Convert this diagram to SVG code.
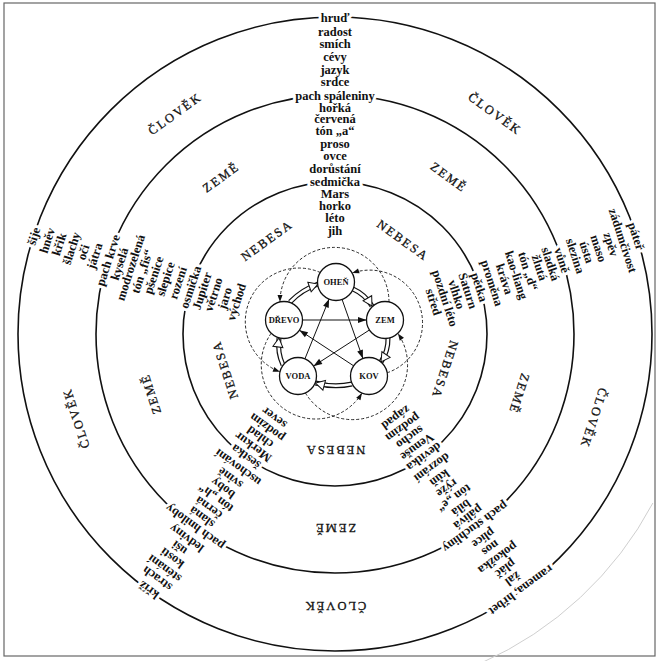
<svg xmlns="http://www.w3.org/2000/svg" width="660" height="661" viewBox="0 0 660 661">
<defs>
<style>
.t{font-family:"Liberation Serif","Times New Roman",serif;font-size:12.5px;font-weight:bold;text-anchor:middle;fill:#111}
.h{stroke:#fff;stroke-width:6;stroke-linejoin:round;paint-order:stroke}
.ring{font-size:12.5px;font-weight:normal;letter-spacing:2px;stroke:#111;stroke-width:0.3}
.circ{fill:none;stroke:#111;stroke-width:1.6}
.dash{fill:none;stroke:#111;stroke-width:0.9;stroke-dasharray:3 2;marker-end:url(#ad)}
.ctl{fill:none;stroke:#111;stroke-width:1;marker-end:url(#af)}
.genb{fill:none;stroke:#111;stroke-width:5}
.genw{fill:none;stroke:#fff;stroke-width:2.6;marker-end:url(#ah)}
.node circle{fill:#fff;stroke:#111;stroke-width:1.3}
.node text{font-family:"Liberation Serif","Times New Roman",serif;font-size:8.5px;font-weight:bold;text-anchor:middle;fill:#111}
</style>
<marker id="af" markerUnits="userSpaceOnUse" markerWidth="9" markerHeight="7" refX="8.5" refY="3" orient="auto" overflow="visible"><path d="M0,0 L8.5,3 L0,6 Z" fill="#111"/></marker>
<marker id="ad" markerUnits="userSpaceOnUse" markerWidth="8" markerHeight="6" refX="7" refY="2.5" orient="auto" overflow="visible"><path d="M0,0 L7,2.5 L0,5 Z" fill="#111"/></marker>
<marker id="ah" markerUnits="userSpaceOnUse" markerWidth="12" markerHeight="12" refX="10" refY="5.5" orient="auto" overflow="visible"><path d="M1,0.5 L10,5.5 L1,10.5 Z" fill="#fff" stroke="#111" stroke-width="1"/></marker>
</defs>
<rect width="660" height="661" fill="#fff"/>
<rect x="4" y="3" width="651" height="653" fill="none" stroke="#666" stroke-width="1.2"/>
<path d="M652.9,503 A360,360 0 0 1 481.4,662.9" fill="none" stroke="#cfcfcf" stroke-width="1"/>

<g id="rings">
<circle class="circ" cx="335" cy="334" r="317"/>
<circle class="circ" cx="335" cy="334" r="239"/>
<circle class="circ" cx="335" cy="334" r="152"/>
</g>

<g id="ring-labels" class="t ring">
<text x="335" y="66" transform="rotate(-36 335 334)">ČLOVĚK</text>
<text x="335" y="66" transform="rotate(36 335 334)">ČLOVĚK</text>
<text x="335" y="66" transform="rotate(108 335 334)">ČLOVĚK</text>
<text x="335" y="66" transform="rotate(180 335 334)">ČLOVĚK</text>
<text x="335" y="66" transform="rotate(252 335 334)">ČLOVĚK</text>
<text x="335" y="144.5" transform="rotate(-36 335 334)">ZEMĚ</text>
<text x="335" y="144.5" transform="rotate(36 335 334)">ZEMĚ</text>
<text x="335" y="144.5" transform="rotate(108 335 334)">ZEMĚ</text>
<text x="335" y="144.5" transform="rotate(180 335 334)">ZEMĚ</text>
<text x="335" y="144.5" transform="rotate(252 335 334)">ZEMĚ</text>
<text x="335" y="222.5" transform="rotate(-36 335 334)">NEBESA</text>
<text x="335" y="222.5" transform="rotate(36 335 334)">NEBESA</text>
<text x="335" y="222.5" transform="rotate(108 335 334)">NEBESA</text>
<text x="335" y="222.5" transform="rotate(180 335 334)">NEBESA</text>
<text x="335" y="222.5" transform="rotate(252 335 334)">NEBESA</text>
</g>

<g id="col-ohen" class="t">
<text class="h" x="335" y="21.5">hruď</text>
<text x="335" y="35.5">radost</text>
<text x="335" y="48">smích</text>
<text x="335" y="61">cévy</text>
<text x="335" y="73.5">jazyk</text>
<text x="335" y="85.5">srdce</text>
<text class="h" x="335" y="99.5">pach spáleniny</text>
<text x="335" y="111.5">hořká</text>
<text x="335" y="123.2">červená</text>
<text x="335" y="135.2">tón „a“</text>
<text x="335" y="147.5">proso</text>
<text x="335" y="160">ovce</text>
<text x="335" y="173">dorůstání</text>
<text class="h" x="335" y="186.4">sedmička</text>
<text x="335" y="198.4">Mars</text>
<text x="335" y="210.4">horko</text>
<text x="335" y="222.4">léto</text>
<text x="335" y="234.5">jih</text>
</g>

<g id="col-zem" class="t" transform="rotate(72 335 334)">
<text class="h" x="335" y="21.5">páteř</text>
<text x="335" y="35.5">zádumčivost</text>
<text x="335" y="48">zpěv</text>
<text x="335" y="61">maso</text>
<text x="335" y="73.5">ústa</text>
<text x="335" y="85.5">slezina</text>
<text class="h" x="335" y="99.5">vůně</text>
<text x="335" y="111.5">sladká</text>
<text x="335" y="123.2">žlutá</text>
<text x="335" y="135.2">tón „d“</text>
<text x="335" y="147.5">kao-liang</text>
<text x="335" y="160">kráva</text>
<text x="335" y="173">proměna</text>
<text class="h" x="335" y="186.4">pětka</text>
<text x="335" y="198.4">Saturn</text>
<text x="335" y="210.4">vlhko</text>
<text x="335" y="222.4">pozdní léto</text>
<text x="335" y="234.5">střed</text>
</g>

<g id="col-kov" class="t" transform="rotate(144 335 334)">
<text class="h" x="335" y="21.5">ramena, hřbet</text>
<text x="335" y="35.5">žal</text>
<text x="335" y="48">pláč</text>
<text x="335" y="61">pokožka</text>
<text x="335" y="73.5">nos</text>
<text x="335" y="85.5">plíce</text>
<text class="h" x="335" y="99.5">pach stuchliny</text>
<text x="335" y="111.5">pálivá</text>
<text x="335" y="123.2">bílá</text>
<text x="335" y="135.2">tón „e“</text>
<text x="335" y="147.5">rýže</text>
<text x="335" y="160">kůň</text>
<text x="335" y="173">dozrání</text>
<text class="h" x="335" y="186.4">devítka</text>
<text x="335" y="198.4">Venuše</text>
<text x="335" y="210.4">sucho</text>
<text x="335" y="222.4">podzim</text>
<text x="335" y="234.5">západ</text>
</g>

<g id="col-voda" class="t" transform="rotate(-144 335 334)">
<text class="h" x="335" y="21.5">kříž</text>
<text x="335" y="35.5">strach</text>
<text x="335" y="48">sténání</text>
<text x="335" y="61">kosti</text>
<text x="335" y="73.5">uši</text>
<text x="335" y="85.5">ledviny</text>
<text class="h" x="335" y="99.5">pach hniloby</text>
<text x="335" y="111.5">slaná</text>
<text x="335" y="123.2">černá</text>
<text x="335" y="135.2">tón „h“</text>
<text x="335" y="147.5">boby</text>
<text x="335" y="160">svině</text>
<text x="335" y="173">uschování</text>
<text class="h" x="335" y="186.4">šestka</text>
<text x="335" y="198.4">Merkur</text>
<text x="335" y="210.4">chlad</text>
<text x="335" y="222.4">podzim</text>
<text x="335" y="234.5">sever</text>
</g>

<g id="col-drevo" class="t" transform="rotate(-72 335 334)">
<text class="h" x="335" y="21.5">šije</text>
<text x="335" y="35.5">hněv</text>
<text x="335" y="48">křik</text>
<text x="335" y="61">šlachy</text>
<text x="335" y="73.5">oči</text>
<text x="335" y="85.5">játra</text>
<text class="h" x="335" y="99.5">pach krve</text>
<text x="335" y="111.5">kyselá</text>
<text x="335" y="123.2">modrozelená</text>
<text x="335" y="135.2">tón „fis“</text>
<text x="335" y="147.5">pšenice</text>
<text x="335" y="160">slepice</text>
<text x="335" y="173">rození</text>
<text class="h" x="335" y="186.4">osmička</text>
<text x="335" y="198.4">Jupiter</text>
<text x="335" y="210.4">větrno</text>
<text x="335" y="222.4">jaro</text>
<text x="335" y="234.5">východ</text>
</g>

<g id="connectors">
<path class="dash" d="M389,301.9 A54.5,54.5 0 1 0 280,301.9"/>
<path class="dash" d="M387.2,372.8 A52.8,52.8 0 1 0 352.2,273.1"/>
<path class="dash" d="M305.5,393.1 A55,55 0 1 0 397.9,333.5"/>
<path class="dash" d="M271.1,333.4 A54.4,54.4 0 1 0 362,393.1"/>
<path class="dash" d="M320.3,272.5 A53.6,53.6 0 1 0 280,371.8"/>
<path class="ctl" d="M302.5,320 L366.5,320"/>
<path class="ctl" d="M342.1,299.5 L362.9,358.5"/>
<path class="ctl" d="M369.4,330 L313.6,366"/>
<path class="ctl" d="M353.6,365.8 L299.4,330.2"/>
<path class="ctl" d="M304.9,358.9 L329.1,299.1"/>
<path class="genb" d="M290,302 Q301.6,289.8 318,284"/>
<path class="genw" d="M290,302 Q301.6,289.8 318,284"/>
<path class="genb" d="M353,289 Q365,294.3 372,306"/>
<path class="genw" d="M353,289 Q365,294.3 372,306"/>
<path class="genb" d="M388,338 Q388.3,351.2 381,362"/>
<path class="genw" d="M388,338 Q388.3,351.2 381,362"/>
<path class="genb" d="M352,384 Q334,388 315.5,383"/>
<path class="genw" d="M352,384 Q334,388 315.5,383"/>
<path class="genb" d="M283,365 Q277.2,352.7 279,338"/>
<path class="genw" d="M283,365 Q277.2,352.7 279,338"/>
</g>

<g id="n-ohen" class="node"><circle cx="336" cy="282" r="18.5"/><text x="336" y="285">OHEŇ</text></g>
<g id="n-zem" class="node"><circle cx="385" cy="320" r="18.5"/><text x="385" y="323">ZEM</text></g>
<g id="n-kov" class="node"><circle cx="369" cy="376" r="18.5"/><text x="369" y="379">KOV</text></g>
<g id="n-voda" class="node"><circle cx="298" cy="376" r="18.5"/><text x="298" y="379">VODA</text></g>
<g id="n-drevo" class="node"><circle cx="284" cy="320" r="18.5"/><text x="284" y="323">DŘEVO</text></g>
</svg>
